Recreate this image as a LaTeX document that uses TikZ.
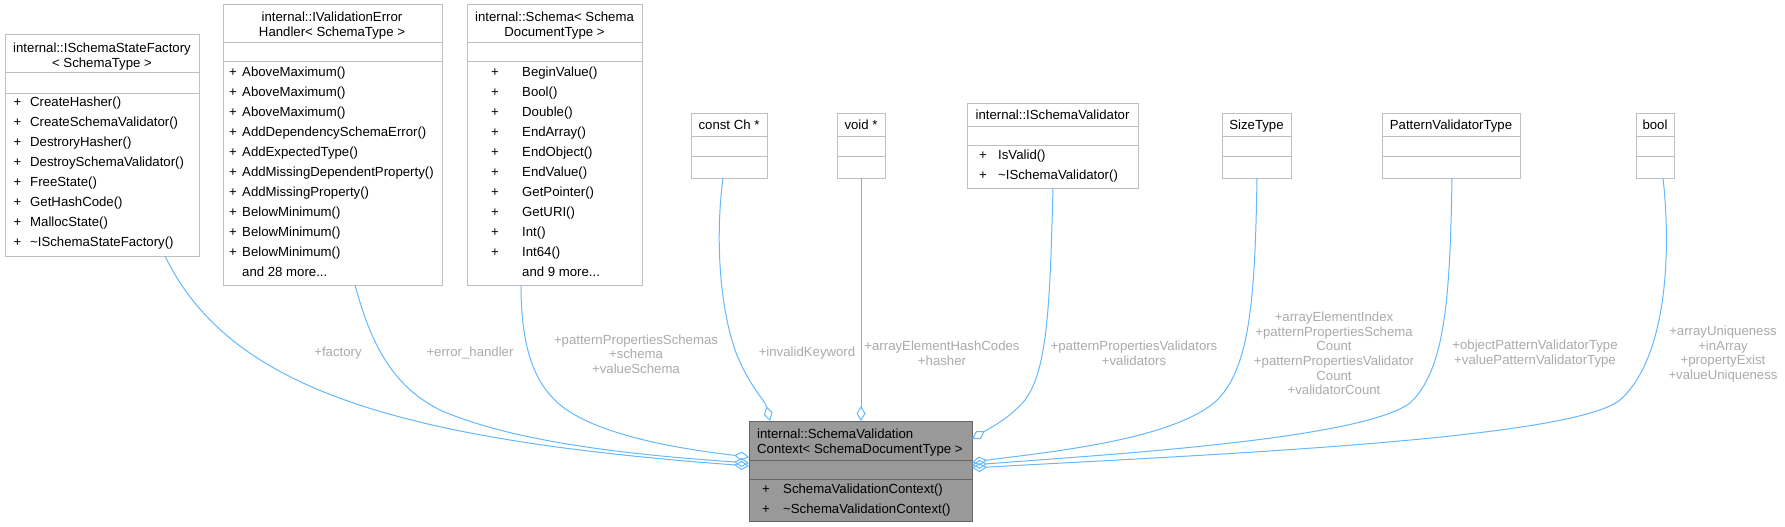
\documentclass[tikz,border=0pt]{standalone}
\usepackage{fontspec}
\setmainfont{Liberation Sans}
\usetikzlibrary{arrows.meta,calc}
\definecolor{edgeblue}{HTML}{63B8FF}
\definecolor{boxgray}{HTML}{BFBFBF}
\definecolor{lblgray}{HTML}{AAAAAA}
\definecolor{mainfill}{HTML}{999999}
\definecolor{mainline}{HTML}{666666}
\newcommand\fs{\fontsize{13.2}{14.7}\selectfont}
\tikzset{
  cls/.style={draw=boxgray, fill=white, line width=1pt, inner sep=0pt, outer sep=0pt, anchor=north west},
  mainc/.style={draw=mainline, fill=mainfill, line width=1pt, inner sep=0pt, outer sep=0pt, anchor=north west},
  sepl/.style={draw=boxgray, line width=1pt},
  mainsep/.style={draw=mainline, line width=1pt},
  txt/.style={font=\fs, inner sep=0pt, text=black},
  lbl/.style={font=\fs, inner sep=0pt, text=lblgray, align=center},
  assoc/.style={draw=edgeblue, line width=1pt, -{Diamond[open,length=15pt,width=9pt]}}
}
\begin{document}
\begin{tikzpicture}[x=1pt,y=-1pt]
\useasboundingbox (0,0) rectangle (1785,527);

% ---------- boxes ----------
\node[cls, minimum width=194pt, minimum height=221pt] (factory) at (5,35) {};
\draw[sepl] ($(factory.north west)+(0,38)$) -- ($(factory.north east)+(0,38)$);
\draw[sepl] ($(factory.north west)+(0,58)$) -- ($(factory.north east)+(0,58)$);
\node[txt, anchor=base] (factory-t1) at (102,52.5) {internal::ISchemaStateFactory};
\node[txt, anchor=base] (factory-t2) at (102,67.5) {< SchemaType >};
\foreach \m [count=\i from 0] in {CreateHasher(),CreateSchemaValidator(),DestroryHasher(),DestroySchemaValidator(),FreeState(),GetHashCode(),MallocState(),\textasciitilde ISchemaStateFactory()}{
  \node[txt, anchor=base] (factory-p\i) at (17.5,{106.5+20*\i}) {+};
  \node[txt, anchor=base west] (factory-m\i) at (30,{106.5+20*\i}) {\m};
}

\node[cls, minimum width=219pt, minimum height=280pt] (handler) at (223,5) {};
\draw[sepl] ($(handler.north west)+(0,38)$) -- ($(handler.north east)+(0,38)$);
\draw[sepl] ($(handler.north west)+(0,57)$) -- ($(handler.north east)+(0,57)$);
\node[txt, anchor=base] (handler-t1) at (332,21.5) {internal::IValidationError};
\node[txt, anchor=base] (handler-t2) at (332,36.5) {Handler< SchemaType >};
\foreach \m [count=\i from 0] in {AboveMaximum(),AboveMaximum(),AboveMaximum(),AddDependencySchemaError(),AddExpectedType(),AddMissingDependentProperty(),AddMissingProperty(),BelowMinimum(),BelowMinimum(),BelowMinimum()}{
  \node[txt, anchor=base] (handler-p\i) at (233,{76.5+20*\i}) {+};
  \node[txt, anchor=base west] (handler-m\i) at (242,{76.5+20*\i}) {\m};
}
\node[txt, anchor=base west] (handler-more) at (242,276.5) {and 28 more...};

\node[cls, minimum width=175pt, minimum height=280pt] (schema) at (467,5) {};
\draw[sepl] ($(schema.north west)+(0,38)$) -- ($(schema.north east)+(0,38)$);
\draw[sepl] ($(schema.north west)+(0,57)$) -- ($(schema.north east)+(0,57)$);
\node[txt, anchor=base] (schema-t1) at (554.5,21.5) {internal::Schema< Schema};
\node[txt, anchor=base] (schema-t2) at (554.5,36.5) {DocumentType >};
\foreach \m [count=\i from 0] in {BeginValue(),Bool(),Double(),EndArray(),EndObject(),EndValue(),GetPointer(),GetURI(),Int(),Int64()}{
  \node[txt, anchor=base] (schema-p\i) at (495,{76.5+20*\i}) {+};
  \node[txt, anchor=base west] (schema-m\i) at (522,{76.5+20*\i}) {\m};
}
\node[txt, anchor=base west] (schema-more) at (522,276.5) {and 9 more...};

\node[cls, minimum width=76pt, minimum height=65pt] (constch) at (691,113) {};
\draw[sepl] ($(constch.north west)+(0,23)$) -- ($(constch.north east)+(0,23)$);
\draw[sepl] ($(constch.north west)+(0,43)$) -- ($(constch.north east)+(0,43)$);
\node[txt, anchor=base] (constch-t) at (729,129.5) {const Ch *};

\node[cls, minimum width=48pt, minimum height=65pt] (voidp) at (837,113) {};
\draw[sepl] ($(voidp.north west)+(0,23)$) -- ($(voidp.north east)+(0,23)$);
\draw[sepl] ($(voidp.north west)+(0,43)$) -- ($(voidp.north east)+(0,43)$);
\node[txt, anchor=base] (voidp-t) at (861,129.5) {void *};

\node[cls, minimum width=171pt, minimum height=85pt] (isv) at (967,103) {};
\draw[sepl] ($(isv.north west)+(0,23)$) -- ($(isv.north east)+(0,23)$);
\draw[sepl] ($(isv.north west)+(0,42)$) -- ($(isv.north east)+(0,42)$);
\node[txt, anchor=base] (isv-t) at (1052.5,119.5) {internal::ISchemaValidator};
\node[txt, anchor=base] (isv-p0) at (983,159.5) {+};
\node[txt, anchor=base west] (isv-m0) at (998,159.5) {IsValid()};
\node[txt, anchor=base] (isv-p1) at (983,179.5) {+};
\node[txt, anchor=base west] (isv-m1) at (998,179.5) {\textasciitilde ISchemaValidator()};

\node[cls, minimum width=69pt, minimum height=65pt] (sizet) at (1222,113) {};
\draw[sepl] ($(sizet.north west)+(0,23)$) -- ($(sizet.north east)+(0,23)$);
\draw[sepl] ($(sizet.north west)+(0,43)$) -- ($(sizet.north east)+(0,43)$);
\node[txt, anchor=base] (sizet-t) at (1256.5,129.5) {SizeType};

\node[cls, minimum width=138pt, minimum height=65pt] (pvt) at (1382,113) {};
\draw[sepl] ($(pvt.north west)+(0,23)$) -- ($(pvt.north east)+(0,23)$);
\draw[sepl] ($(pvt.north west)+(0,43)$) -- ($(pvt.north east)+(0,43)$);
\node[txt, anchor=base] (pvt-t) at (1451,129.5) {PatternValidatorType};

\node[cls, minimum width=38pt, minimum height=65pt] (boolb) at (1636,113) {};
\draw[sepl] ($(boolb.north west)+(0,23)$) -- ($(boolb.north east)+(0,23)$);
\draw[sepl] ($(boolb.north west)+(0,43)$) -- ($(boolb.north east)+(0,43)$);
\node[txt, anchor=base] (boolb-t) at (1655,129.5) {bool};

\node[mainc, minimum width=223pt, minimum height=100pt] (main) at (749,421) {};
\draw[mainsep] ($(main.north west)+(0,39)$) -- ($(main.north east)+(0,39)$);
\draw[mainsep] ($(main.north west)+(0,58)$) -- ($(main.north east)+(0,58)$);
\node[txt, anchor=base west] (main-t1) at (757,438.5) {internal::SchemaValidation};
\node[txt, anchor=base west] (main-t2) at (757,453.5) {Context< SchemaDocumentType >};
\node[txt, anchor=base] (main-p0) at (766,493.5) {+};
\node[txt, anchor=base west] (main-m0) at (783,493.5) {SchemaValidationContext()};
\node[txt, anchor=base] (main-p1) at (766,513.5) {+};
\node[txt, anchor=base west] (main-m1) at (783,513.5) {\textasciitilde SchemaValidationContext()};

% ---------- connectors ----------
\draw[assoc] ($(factory.south west)+(160,0)$) .. controls (230,390) and (400,440) .. ($(main.north west)+(0,45)$);
\draw[assoc] ($(handler.south west)+(132,0)$) .. controls (370,340) and (390,385) .. (440,410)
   .. controls (520,445) and (650,456) .. ($(main.north west)+(0,42)$);
\draw[assoc] ($(schema.south west)+(54,0)$) .. controls (521,350) and (535,390) .. (570,412)
   .. controls (610,437) and (680,449) .. ($(main.north west)+(0,36)$);
\draw[assoc] ($(constch.south west)+(32,0)$) .. controls (716,230) and (718,300) .. (735,350)
   .. controls (748,385) and (765,400) .. ($(main.north west)+(21,0)$);
\draw[assoc] (voidp.south) -- ($(main.north west)+(112,0)$);
\draw[assoc] ($(isv.south west)+(86,0)$) .. controls (1050,300) and (1048,370) .. (1025,400)
   .. controls (1010,418) and (990,428) .. ($(main.north east)+(0,18)$);
\draw[assoc] ($(sizet.south west)+(35,0)$) .. controls (1255,300) and (1250,370) .. (1215,402)
   .. controls (1170,440) and (1050,452) .. ($(main.north east)+(0,41)$);
\draw[assoc] ($(pvt.south west)+(70,0)$) .. controls (1450,300) and (1445,370) .. (1410,403)
   .. controls (1360,440) and (1100,455) .. ($(main.north east)+(0,44)$);
\draw[assoc] ($(boolb.south west)+(27,0)$) .. controls (1672,260) and (1665,360) .. (1620,400)
   .. controls (1570,440) and (1200,455) .. ($(main.north east)+(0,47)$);

% ---------- labels ----------
\node[lbl] (l-factory) at (338,353) {+factory};
\node[lbl] (l-handler) at (470,353) {+error\_handler};
\node[lbl] (l-schema) at (636,354) {+patternPropertiesSchemas\\+schema\\+valueSchema};
\node[lbl] (l-invalid) at (807,353) {+invalidKeyword};
\node[lbl] (l-hash) at (942,353) {+arrayElementHashCodes\\+hasher};
\node[lbl] (l-validators) at (1134,353) {+patternPropertiesValidators\\+validators};
\node[lbl] (l-sizet) at (1334,353.5) {+arrayElementIndex\\+patternPropertiesSchema\\Count\\+patternPropertiesValidator\\Count\\+validatorCount};
\node[lbl] (l-pvt) at (1535,353.5) {+objectPatternValidatorType\\+valuePatternValidatorType};
\node[lbl] (l-bool) at (1723,354) {+arrayUniqueness\\+inArray\\+propertyExist\\+valueUniqueness};
\end{tikzpicture}
\end{document}
